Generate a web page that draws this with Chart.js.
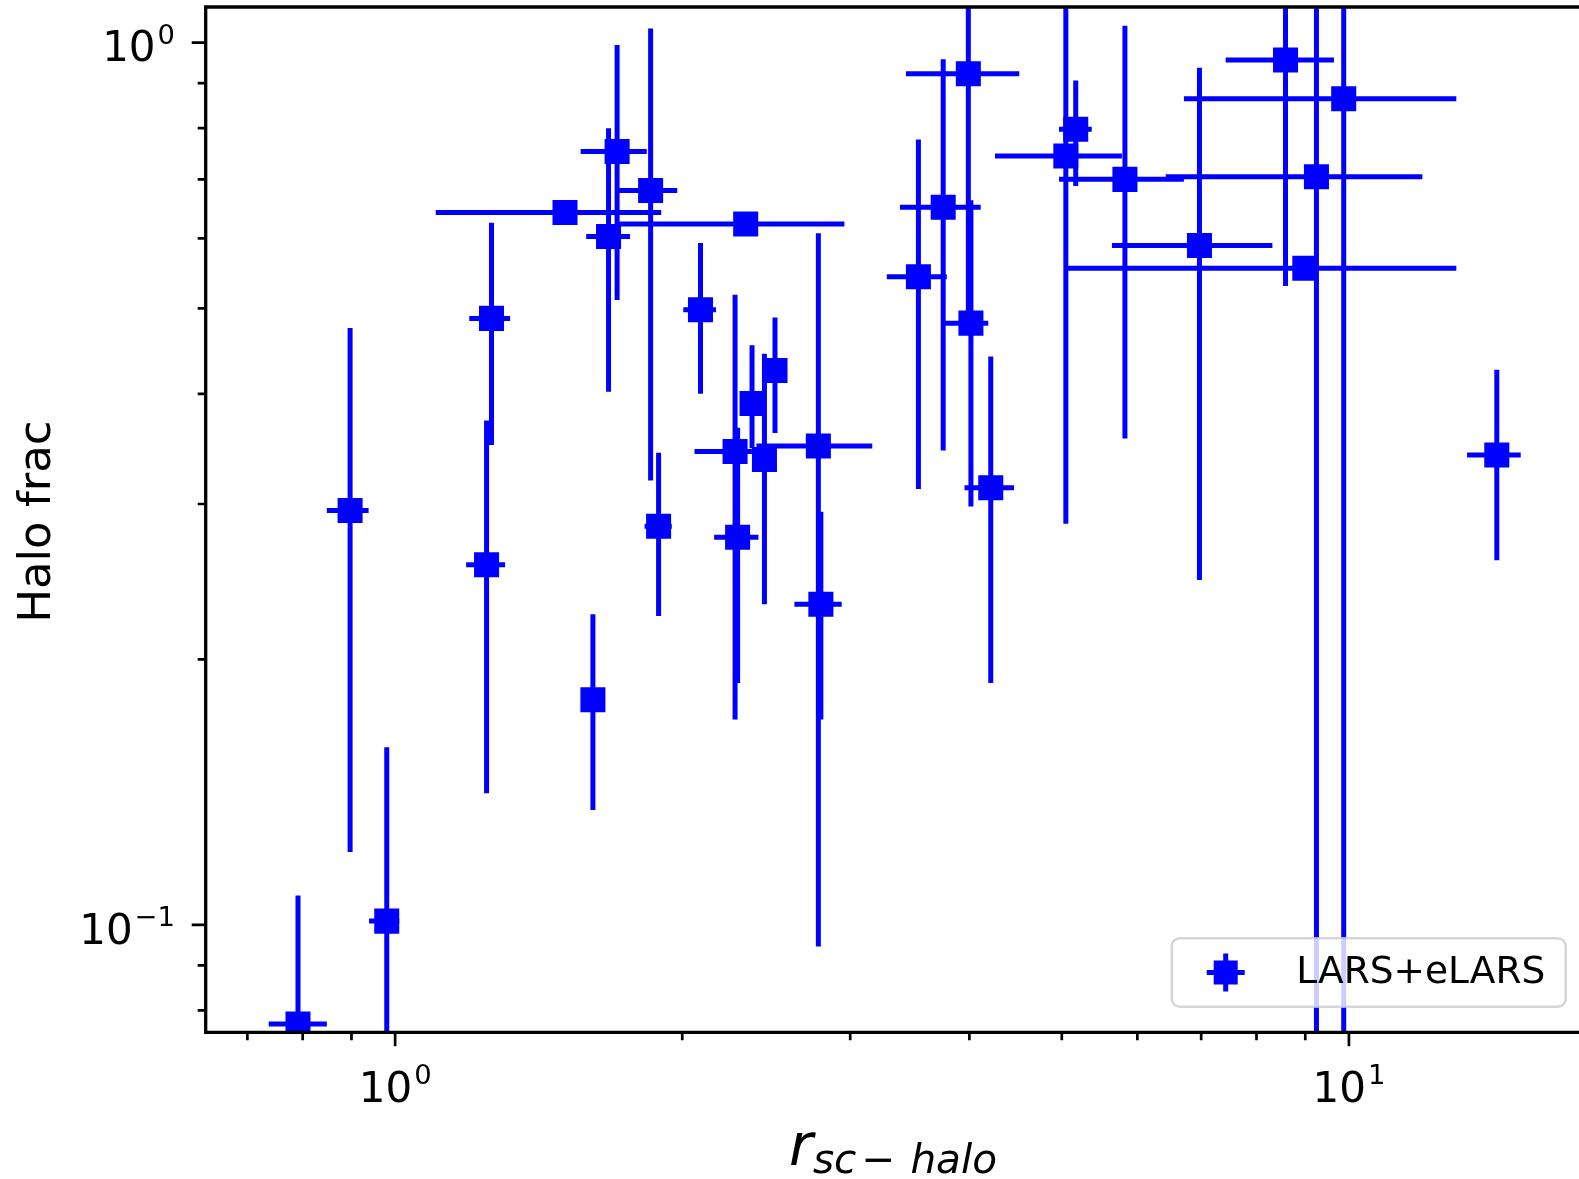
<!DOCTYPE html>
<html>
<head>
<meta charset="utf-8">
<title>Halo frac vs r_sc-halo</title>
<script src="https://cdn.jsdelivr.net/npm/chart.js@4.4.1/dist/chart.umd.min.js"></script>
<style>
  html, body { margin: 0; padding: 0; background: #fff; overflow: hidden; }
  canvas { display: block; }
</style>
</head>
<body>
<canvas id="haloChart" width="1584" height="1179"></canvas>
<script>
// LARS+eLARS: r_sc-halo against halo fraction
const rsc      = [0.791, 0.897, 0.980, 1.247, 1.262, 1.507, 1.709, 1.674, 1.853, 2.331, 2.090, 2.502,
                  2.367, 2.272, 2.439, 2.286, 2.778, 2.795, 1.889, 1.612, 3.537, 3.755, 3.990, 4.015,
                  4.212, 5.049, 5.171, 5.823, 6.971, 8.581, 9.875, 9.246, 8.990, 14.29];
const haloFrac = [0.0772, 0.295, 0.101, 0.256, 0.487, 0.642, 0.753, 0.603, 0.680, 0.623, 0.498, 0.425,
                  0.390, 0.344, 0.337, 0.275, 0.349, 0.231, 0.283, 0.180, 0.543, 0.651, 0.922, 0.481,
                  0.313, 0.744, 0.798, 0.700, 0.589, 0.956, 0.864, 0.705, 0.555, 0.341];
// error bar ends (lower / upper)
const rscLo    = [0.737, 0.848, 0.939, 1.187, 1.196, 1.103, 1.565, 1.586, 1.714, 1.714, 2.005, 2.502,
                  2.367, 2.060, 2.439, 2.160, 2.392, 2.622, 1.826, 1.612, 3.277, 3.383, 3.432, 3.755,
                  3.953, 4.255, 4.966, 4.966, 5.643, 7.426, 6.714, 6.426, 5.028, 13.30];
const rscHi    = [0.848, 0.938, 1.010, 1.304, 1.320, 1.901, 1.836, 1.763, 1.976, 2.958, 2.170, 2.502,
                  2.367, 2.484, 2.439, 2.404, 3.164, 2.939, 1.950, 1.612, 3.788, 4.111, 4.512, 4.187,
                  4.456, 5.781, 5.375, 6.714, 8.313, 9.645, 12.96, 11.94, 12.96, 15.14];
const haloLo   = [0.047, 0.121, 0.043, 0.141, 0.350, 0.642, 0.511, 0.402, 0.319, 0.623, 0.400, 0.361,
                  0.347, 0.171, 0.231, 0.188, 0.0945, 0.171, 0.224, 0.135, 0.312, 0.345, 0.494, 0.298,
                  0.188, 0.285, 0.688, 0.356, 0.246, 0.530, 0.010, 0.010, 0.555, 0.259];
const haloHi   = [0.108, 0.475, 0.159, 0.373, 0.625, 0.642, 0.994, 0.800, 1.038, 0.623, 0.593, 0.488,
                  0.454, 0.518, 0.444, 0.366, 0.608, 0.294, 0.343, 0.225, 0.777, 0.958, 1.350, 0.663,
                  0.441, 1.200, 0.906, 1.045, 0.937, 1.380, 1.720, 1.400, 0.555, 0.426];

// log ticks; labels written base^exponent
const xTicks = [0.7, 0.8, 0.9, 1, 2, 3, 4, 5, 6, 7, 8, 9, 10];
const xTickLabels = ["", "", "", "10^0", "", "", "", "", "", "", "", "", "10^1"];
const yTicks = [0.08, 0.09, 0.1, 0.2, 0.3, 0.4, 0.5, 0.6, 0.7, 0.8, 0.9, 1];
const yTickLabels = ["", "", "10^\u22121", "", "", "", "", "", "", "", "", "10^0"];

const seriesName = "LARS+eLARS";
const yTitle = "Halo frac";

const blue = "#0000ff";
const font = '"DejaVu Sans"';

Chart.defaults.font.family = "DejaVu Sans";
Chart.defaults.color = "#000";

const errorBars = {
  id: "errorBars",
  beforeDatasetsDraw(chart) {
    const { ctx, chartArea: a, scales: { x, y } } = chart;
    ctx.save();
    ctx.beginPath();
    ctx.rect(a.left, a.top, a.right - a.left, a.bottom - a.top);
    ctx.clip();
    ctx.strokeStyle = blue;
    ctx.lineWidth = 5;
    rsc.forEach((r, i) => {
      const px = x.getPixelForValue(r);
      const py = y.getPixelForValue(haloFrac[i]);
      ctx.beginPath();
      ctx.moveTo(x.getPixelForValue(rscLo[i]), py);
      ctx.lineTo(x.getPixelForValue(rscHi[i]), py);
      ctx.moveTo(px, y.getPixelForValue(haloLo[i]));
      ctx.lineTo(px, y.getPixelForValue(haloHi[i]));
      ctx.stroke();
    });
    ctx.restore();
  },
};

// "10" with a raised, smaller exponent
function drawPower(ctx, label, x, y, align) {
  const [base, exp] = label.split("^");
  ctx.font = "42px " + font;
  const bw = ctx.measureText(base).width;
  ctx.font = "27.4px " + font;
  const ew = ctx.measureText(exp).width;
  const total = bw + 2 + ew;
  const left = align === "right" ? x - total : x - total / 2;
  ctx.font = "42px " + font;
  ctx.fillText(base, left, y);
  ctx.font = "27.4px " + font;
  ctx.fillText(exp, left + bw + 2, y - 17.8);
}

// spines, major / minor tick marks and tick labels
const axesFrame = {
  id: "axesFrame",
  afterDatasetsDraw(chart) {
    const { ctx, chartArea: a, scales: { x, y } } = chart;
    ctx.save();
    ctx.strokeStyle = "#000";
    ctx.fillStyle = "#000";
    ctx.textBaseline = "alphabetic";
    ctx.textAlign = "left";
    ctx.lineWidth = 2.7;
    ctx.beginPath();
    x.ticks.forEach((t) => {
      const px = x.getPixelForValue(t.value);
      const len = t.label ? 14 : 8;
      ctx.moveTo(px, a.bottom);
      ctx.lineTo(px, a.bottom + len);
      if (t.label) drawPower(ctx, t.label, px, a.bottom + 69.4, "center");
    });
    y.ticks.forEach((t) => {
      const py = y.getPixelForValue(t.value);
      const len = t.label ? 14 : 8;
      ctx.moveTo(a.left, py);
      ctx.lineTo(a.left - len, py);
      if (t.label) drawPower(ctx, t.label, a.left - 30.7, py + 18.7, "right");
    });
    ctx.stroke();
    ctx.lineWidth = 3.3;
    ctx.beginPath();
    ctx.moveTo(a.right + 5, a.top);
    ctx.lineTo(a.left, a.top);
    ctx.lineTo(a.left, a.bottom);
    ctx.lineTo(a.right + 5, a.bottom);
    ctx.stroke();
    ctx.restore();
  },
};

const legendBox = {
  id: "legendBox",
  afterDatasetsDraw(chart) {
    const { ctx, chartArea: a } = chart;
    const w = 394, h = 68.4;
    const left = a.right - 14.8 - w;
    const top = a.bottom - 25.6 - h;
    ctx.save();
    ctx.beginPath();
    ctx.roundRect(left, top, w, h, 8);
    ctx.fillStyle = "rgba(255,255,255,0.8)";
    ctx.fill();
    ctx.strokeStyle = "rgba(204,204,204,0.8)";
    ctx.lineWidth = 2.5;
    ctx.stroke();
    // marker with its error cross
    const mx = left + 54, my = top + h / 2;
    ctx.strokeStyle = blue;
    ctx.lineWidth = 5;
    ctx.beginPath();
    ctx.moveTo(mx - 19, my);
    ctx.lineTo(mx + 19, my);
    ctx.moveTo(mx, my - 19);
    ctx.lineTo(mx, my + 19);
    ctx.stroke();
    ctx.fillStyle = blue;
    ctx.fillRect(mx - 12, my - 12, 24, 24);
    ctx.fillStyle = "#000";
    ctx.font = "37.5px " + font;
    ctx.textBaseline = "alphabetic";
    ctx.fillText(chart.data.datasets[0].label, left + 124.6, top + 45);
    ctx.restore();
  },
};

const axisTitles = {
  id: "axisTitles",
  afterDraw(chart) {
    const { ctx, chartArea: a } = chart;
    ctx.save();
    ctx.fillStyle = "#000";
    ctx.textBaseline = "alphabetic";

    ctx.save();
    ctx.font = "45px " + font;
    ctx.translate(50, (a.top + a.bottom) / 2 + 2);
    ctx.rotate(-Math.PI / 2);
    ctx.textAlign = "center";
    ctx.fillText(yTitle, 0, 0);
    ctx.restore();

    // r_{sc - halo}
    const big = "italic 58px " + font;
    const sub = "italic 40.6px " + font;
    const subUp = "40.6px " + font;
    const parts = [
      { t: "r", f: big, dy: 0, gap: 0 },
      { t: "sc", f: sub, dy: 8.3, gap: 0 },
      { t: "\u2212", f: subUp, dy: 8.3, gap: 5 },
      { t: "halo", f: sub, dy: 8.3, gap: 15 },
    ];
    let total = 0;
    parts.forEach((p) => {
      ctx.font = p.f;
      p.w = ctx.measureText(p.t).width;
      total += p.gap + p.w;
    });
    let cx = (a.left + a.right) / 2 - total / 2;
    const base = a.bottom + 132.7;
    parts.forEach((p) => {
      cx += p.gap;
      ctx.font = p.f;
      ctx.fillText(p.t, cx, base + p.dy);
      cx += p.w;
    });
    ctx.restore();
  },
};

new Chart(document.getElementById("haloChart"), {
  type: "scatter",
  data: {
    datasets: [
      {
        label: seriesName,
        data: rsc.map((r, i) => ({ x: r, y: haloFrac[i] })),
        backgroundColor: blue,
        borderWidth: 0,
        pointStyle: "rect",
        pointRadius: 17.7,
        pointHoverRadius: 17.7,
        clip: 0,
      },
    ],
  },
  options: {
    responsive: false,
    devicePixelRatio: 1,
    animation: false,
    events: [],
    layout: { autoPadding: false, padding: { left: 0, top: 7, right: 3.5, bottom: 0 } },
    plugins: { legend: { display: false }, tooltip: { enabled: false } },
    scales: {
      x: {
        type: "logarithmic",
        bounds: "data",
        min: 0.633,
        max: 17.49,
        afterBuildTicks: (s) => {
          s.ticks = xTicks.map((v) => ({ value: v }));
        },
        afterFit: (s) => {
          s.height = 146.7;
          s.paddingLeft = 0;
          s.paddingRight = 0;
        },
        grid: { display: false, drawTicks: false, tickLength: 0 },
        border: { display: false },
        ticks: {
          display: false,
          autoSkip: false,
          maxRotation: 0,
          callback: (v, i) => xTickLabels[i],
        },
      },
      y: {
        type: "logarithmic",
        bounds: "data",
        min: 0.07556,
        max: 1.0977,
        afterBuildTicks: (s) => {
          s.ticks = yTicks.map((v) => ({ value: v }));
        },
        afterFit: (s) => {
          s.width = 205.7;
          s.paddingTop = 0;
          s.paddingBottom = 0;
        },
        grid: { display: false, drawTicks: false, tickLength: 0 },
        border: { display: false },
        ticks: {
          display: false,
          autoSkip: false,
          callback: (v, i) => yTickLabels[i],
        },
      },
    },
  },
  plugins: [errorBars, axesFrame, legendBox, axisTitles],
});
</script>
</body>
</html>
